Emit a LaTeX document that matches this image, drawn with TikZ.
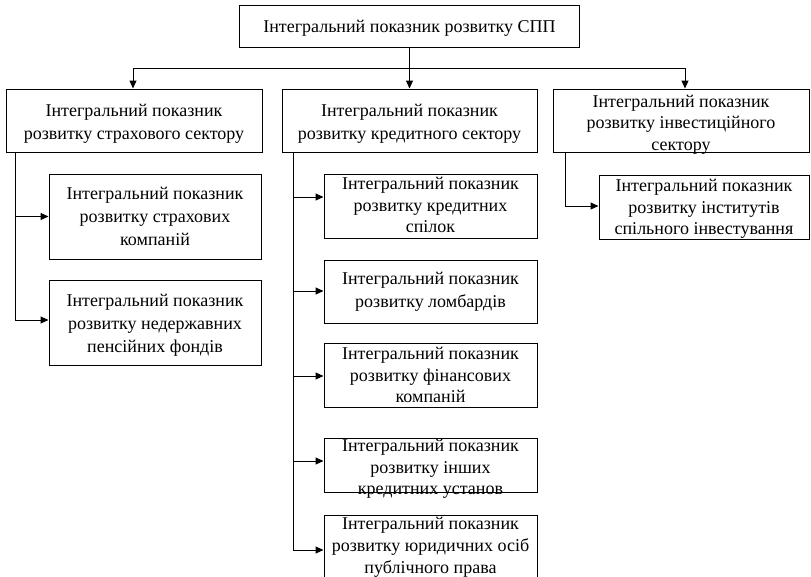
\documentclass[tikz,border=0pt]{standalone}
\usepackage{fontspec}
\setmainfont{Liberation Serif}
\usetikzlibrary{arrows.meta}

\tikzset{
  frame/.style={draw, line width=1pt, inner sep=0pt, fill=white},
  txt/.style={align=center, inner sep=0pt, font=\fontsize{18}{22}\selectfont},
  wide/.style={font=\fontsize{18}{23}\selectfont},
  tight/.style={font=\fontsize{18}{21.5}\selectfont},
  link/.style={line width=1pt},
  arr/.style={line width=1pt, -{Triangle[length=8pt,width=7pt]}},
}

% box: name, spacing style, centre x, centre y, width, height, text centre y, text
\newcommand{\pbox}[8]{%
  \node[frame, minimum width=#5pt, minimum height=#6pt] (#1) at (#3,#4) {};
  \node[txt, #2] (#1t) at (#3,#7) {#8};%
}

\begin{document}
\begin{tikzpicture}[x=1pt, y=-1pt]
\useasboundingbox[fill=white] (0,0) rectangle (811,576);

% top level
\pbox{top}{wide}{409.5}{26}{340}{42}{28}{\strut Інтегральний показник розвитку СПП}

% sectors
\pbox{ins}{wide}{134}{120.5}{256}{63}{123.5}{\strut Інтегральний показник\\\strut розвитку страхового сектору}
\pbox{cre}{wide}{409.5}{120.5}{255}{63}{123.5}{\strut Інтегральний показник\\\strut розвитку кредитного сектору}
\pbox{inv}{tight}{681}{120.5}{256}{63}{124.5}{\strut Інтегральний показник\\\strut розвитку інвестиційного\\\strut сектору}

% insurance sector members
\pbox{i1}{wide}{155}{216.5}{212}{85}{218}{\strut Інтегральний показник\\\strut розвитку страхових\\\strut компаній}
\pbox{i2}{wide}{155}{322.5}{212}{85}{325}{\strut Інтегральний показник\\\strut розвитку недержавних\\\strut пенсійних фондів}

% credit sector members
\pbox{c1}{tight}{430.5}{206}{213}{64}{207}{\strut Інтегральний показник\\\strut розвитку кредитних\\\strut спілок}
\pbox{c2}{wide}{430.5}{291.5}{213}{63}{291.5}{\strut Інтегральний показник\\\strut розвитку ломбардів}
\pbox{c3}{tight}{430.5}{375}{213}{64}{377}{\strut Інтегральний показник\\\strut розвитку фінансових\\\strut компаній}
\pbox{c4}{tight}{430.5}{465}{213}{54}{469}{\strut Інтегральний показник\\\strut розвитку інших\\\strut кредитних установ}
\pbox{c5}{}{430.5}{548}{213}{66}{547}{\strut Інтегральний показник\\\strut розвитку юридичних осіб\\\strut публічного права}

% investment sector member
\pbox{v1}{tight}{704}{207}{210}{64}{209}{\strut Інтегральний показник\\\strut розвитку інститутів\\\strut спільного інвестування}

% distribution bus under the top box
\coordinate (bus) at (409.5,68);
\coordinate (busL) at (133,68);
\coordinate (busR) at (685,68);
\draw[link] (top.south) -- (bus);
\draw[link] (busL) -- (busR);
\draw[arr] (busL) -- (busL |- ins.north);
\draw[arr] (bus) -- (cre.north);
\draw[arr] (busR) -- (busR |- inv.north);

% insurance trunk
\coordinate (ia) at (15,152);
\coordinate (ib) at (15,320);
\draw[link] (ia) -- (ib);
\draw[arr] (ia |- i1.west) -- (i1.west);
\draw[arr] (ib) -- (ib -| i2.west);

% credit trunk
\coordinate (ka) at (293,152);
\coordinate (k1) at (293,197);
\coordinate (k2) at (293,291);
\coordinate (k3) at (293,376);
\coordinate (k4) at (293,461);
\coordinate (k5) at (293,550);
\draw[link] (ka) -- (k5);
\draw[arr] (k1) -- (k1 -| c1.west);
\draw[arr] (k2) -- (k2 -| c2.west);
\draw[arr] (k3) -- (k3 -| c3.west);
\draw[arr] (k4) -- (k4 -| c4.west);
\draw[arr] (k5) -- (k5 -| c5.west);

% investment trunk
\coordinate (va) at (565,152);
\coordinate (v0) at (565,206);
\draw[link] (va) -- (v0);
\draw[arr] (v0) -- (v0 -| v1.west);
\end{tikzpicture}
\end{document}
